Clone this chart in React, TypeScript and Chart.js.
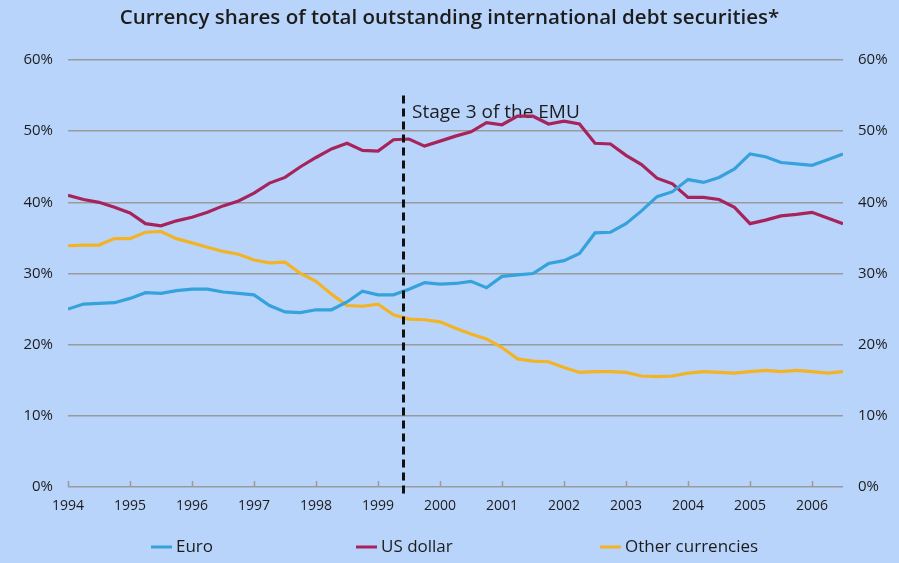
import React, { useEffect, useRef } from 'react';
import { Chart, registerables } from 'chart.js';

Chart.register(...registerables);

// ---------- data ----------
const chartTitle = 'Currency shares of total outstanding international debt securities*';
const annotationText = 'Stage 3 of the EMU';
const emuLineAt = 1999.4; // position of the dashed marker (year)
const yearTicks = [1994, 1995, 1996, 1997, 1998, 1999, 2000, 2001, 2002, 2003, 2004, 2005, 2006];
const xMin = 1994;
const xMax = 2006.5;
const yTicks = [0, 10, 20, 30, 40, 50, 60];

// quarterly observations, 1994 Q1 .. 2006 Q3
const quarters: number[] = Array.from({ length: 51 }, (_, i) => 1994 + i / 4);

const euro = [
  25.0, 25.7, 25.8, 25.9, 26.5, 27.3, 27.2, 27.6, 27.8, 27.8,
  27.4, 27.2, 27.0, 25.5, 24.6, 24.5, 24.9, 24.9, 26.0, 27.5,
  27.0, 27.0, 27.8, 28.7, 28.5, 28.6, 28.9, 28.0, 29.6, 29.8,
  30.0, 31.4, 31.8, 32.8, 35.7, 35.8, 37.0, 38.8, 40.8, 41.5,
  43.2, 42.8, 43.5, 44.7, 46.8, 46.4, 45.6, 45.4, 45.2, 46.0,
  46.8,
];
const usDollar = [
  41.0, 40.4, 40.0, 39.3, 38.5, 37.0, 36.7, 37.4, 37.9, 38.6,
  39.5, 40.2, 41.3, 42.7, 43.5, 45.0, 46.3, 47.5, 48.3, 47.3,
  47.2, 48.8, 48.9, 47.9, 48.6, 49.3, 49.9, 51.2, 50.9, 52.1,
  52.1, 51.0, 51.4, 51.0, 48.3, 48.2, 46.6, 45.3, 43.4, 42.6,
  40.7, 40.7, 40.4, 39.3, 37.0, 37.5, 38.1, 38.3, 38.6, 37.8,
  37.0,
];
const otherCurrencies = [
  33.9, 34.0, 34.0, 34.9, 34.9, 35.8, 35.9, 34.9, 34.3, 33.7,
  33.1, 32.7, 31.9, 31.5, 31.6, 30.0, 28.9, 27.1, 25.5, 25.4,
  25.7, 24.2, 23.6, 23.5, 23.2, 22.3, 21.5, 20.8, 19.6, 18.0,
  17.7, 17.6, 16.8, 16.1, 16.2, 16.2, 16.1, 15.6, 15.5, 15.6,
  16.0, 16.2, 16.1, 16.0, 16.2, 16.4, 16.2, 16.4, 16.2, 16.0,
  16.2,
];

const seriesNames = ['Euro', 'US dollar', 'Other currencies'];
const seriesValues = [euro, usDollar, otherCurrencies];

// ---------- styles ----------
const BG = '#b9d4fb';
const GRID = '#9a9a9a';
const TEXT = '#1c1c1c';
const FONT = '"Open Sans", "Noto Sans", sans-serif';
const seriesColors = ['#36a2dc', '#a6245b', '#f2b324'];
const legendX = [151, 356, 600];

const bgPlugin = {
  id: 'bgFill',
  beforeDraw(chart: any) {
    const { ctx, width, height } = chart;
    ctx.save();
    ctx.fillStyle = BG;
    ctx.fillRect(0, 0, width, height);
    ctx.restore();
  },
};

const decorPlugin = {
  id: 'decor',
  beforeDatasetsDraw(chart: any) {
    const { ctx, scales } = chart;
    const x = scales.x;
    const y = scales.y;
    const px = Math.round(x.getPixelForValue(emuLineAt));
    ctx.save();
    ctx.fillStyle = TEXT;
    ctx.font = `19px ${FONT}`;
    ctx.textBaseline = 'middle';
    ctx.textAlign = 'left';
    ctx.fillText(annotationText, px + 9, y.getPixelForValue(52.6));
    ctx.restore();
  },
  afterDatasetsDraw(chart: any) {
    const { ctx, chartArea, scales } = chart;
    const x = scales.x;
    const y = scales.y;
    ctx.save();
    // year tick marks rising from the axis
    ctx.strokeStyle = GRID;
    ctx.lineWidth = 1.5;
    for (const yr of yearTicks) {
      const tx = Math.round(x.getPixelForValue(yr)) + 0.5;
      ctx.beginPath();
      ctx.moveTo(tx, chartArea.bottom);
      ctx.lineTo(tx, chartArea.bottom - 6);
      ctx.stroke();
    }
    // dashed EMU marker
    const px = Math.round(x.getPixelForValue(emuLineAt)) + 0.5;
    ctx.strokeStyle = '#111';
    ctx.lineWidth = 3;
    ctx.setLineDash([8, 5]);
    ctx.beginPath();
    ctx.moveTo(px, y.getPixelForValue(55));
    ctx.lineTo(px, chartArea.bottom + 10);
    ctx.stroke();
    ctx.restore();
  },
  afterDraw(chart: any) {
    const { ctx, width } = chart;
    ctx.save();
    // title
    ctx.fillStyle = TEXT;
    ctx.font = `600 20.5px ${FONT}`;
    ctx.textAlign = 'center';
    ctx.textBaseline = 'middle';
    ctx.fillText(chartTitle, width / 2, 18);
    // legend
    ctx.font = `17px ${FONT}`;
    ctx.textAlign = 'left';
    seriesNames.forEach((name, i) => {
      const lx = legendX[i];
      ctx.strokeStyle = seriesColors[i];
      ctx.lineWidth = 3;
      ctx.beginPath();
      ctx.moveTo(lx, 547);
      ctx.lineTo(lx + 21, 547);
      ctx.stroke();
      ctx.fillStyle = TEXT;
      ctx.fillText(name, lx + 25, 547);
    });
    ctx.restore();
  },
};

export default function App() {
  const canvasRef = useRef<HTMLCanvasElement | null>(null);

  useEffect(() => {
    document.body.style.margin = '0';
    document.body.style.background = BG;
    const canvas = canvasRef.current;
    if (!canvas) return;

    const pct = (v: any) => `${v}%`;

    const chart = new Chart(canvas, {
      type: 'line',
      data: {
        datasets: seriesNames.map((name, i) => ({
          label: name,
          data: quarters.map((q, j) => ({ x: q, y: seriesValues[i][j] })),
          borderColor: seriesColors[i],
          backgroundColor: seriesColors[i],
          borderWidth: 3.2,
          pointRadius: 0,
          tension: 0,
          fill: false,
          yAxisID: 'y',
        })),
      },
      options: {
        responsive: false,
        animation: false,
        devicePixelRatio: 1,
        layout: { padding: { top: 60, left: 0, right: 0, bottom: 0 } },
        plugins: {
          legend: { display: false },
          title: { display: false },
          tooltip: { enabled: false },
        },
        scales: {
          x: {
            type: 'linear',
            min: xMin,
            max: xMax,
            afterFit: (s: any) => { s.height = 76; },
            afterBuildTicks: (s: any) => { s.ticks = yearTicks.map((v) => ({ value: v })); },
            ticks: {
              autoSkip: false,
              maxRotation: 0,
              padding: 11,
              color: TEXT,
              font: { size: 14, family: FONT },
              callback: (v: any) => String(v),
            },
            grid: { display: false, drawTicks: false },
            border: { display: false },
          },
          y: {
            position: 'left',
            min: 0,
            max: 60,
            afterFit: (s: any) => { s.width = 68; },
            afterBuildTicks: (s: any) => { s.ticks = yTicks.map((v) => ({ value: v })); },
            ticks: {
              padding: 15,
              color: TEXT,
              font: { size: 15, family: FONT },
              callback: pct,
            },
            grid: { color: GRID, lineWidth: 1.5, drawTicks: false },
            border: { display: false },
          },
          y2: {
            position: 'right',
            min: 0,
            max: 60,
            afterFit: (s: any) => { s.width = 56; },
            afterBuildTicks: (s: any) => { s.ticks = yTicks.map((v) => ({ value: v })); },
            ticks: {
              padding: 15,
              color: TEXT,
              font: { size: 15, family: FONT },
              callback: pct,
            },
            grid: { display: false, drawOnChartArea: false, drawTicks: false },
            border: { display: false },
          },
        },
      },
      plugins: [bgPlugin, decorPlugin],
    } as any);

    return () => chart.destroy();
  }, []);

  return (
    <div style={{ width: 899, height: 563 }}>
      <canvas ref={canvasRef} width={899} height={563} style={{ display: 'block' }} />
    </div>
  );
}
